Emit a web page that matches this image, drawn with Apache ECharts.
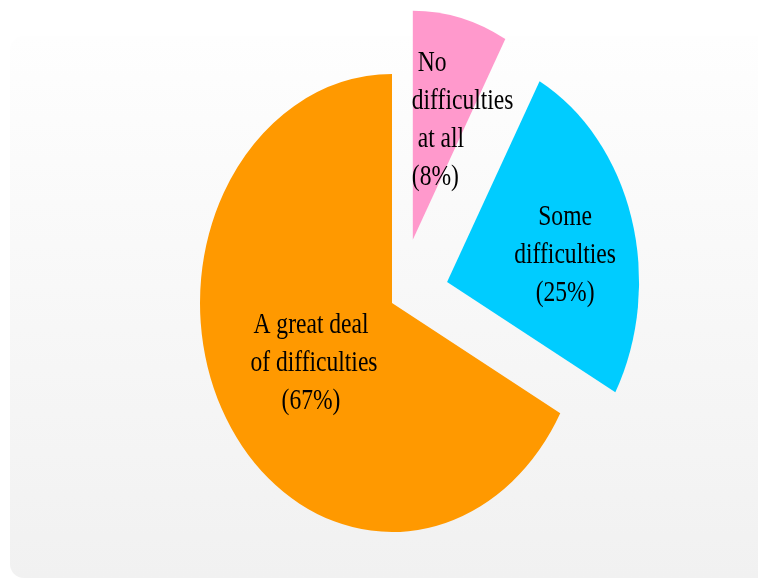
<!DOCTYPE html>
<html>
<head>
<meta charset="utf-8">
<script src="https://cdn.jsdelivr.net/npm/echarts@6/dist/echarts.min.js"></script>
<style>
  html, body { margin: 0; padding: 0; background: #ffffff; }
  #chart { width: 758px; height: 580px; }
</style>
</head>
<body>
<div id="chart"></div>
<script>
// Survey answers: how much difficulty respondents reported
const categories = ['No difficulties at all', 'Some difficulties', 'A great deal of difficulties'];
const shares = [8, 25, 67];
// Wrapped label lines for each category (the percentage line is added from shares)
const labelLines = [
  [' No', 'difficulties', ' at all'],
  ['Some', 'difficulties'],
  ['A great deal', ' of difficulties']
];
const sliceColors = ['#FF99CC', '#00CCFF', '#FF9900'];

// Layout of the pie: an ellipse built from a circle squeezed horizontally
const pie = { cx: 392, cy: 303, r: 229, xScale: 192 / 229 };
// Pull-out of each slice: distance and small angular bias (degrees)
const explode = [{ dist: 68, tilt: 7 }, { dist: 69, tilt: -1.6 }, { dist: 0, tilt: 0 }];
// Label anchor relative to each slice apex, with alignment
const labelPlace = [
  { dx: -1, dy: -120, align: 'left' },
  { dx: 118, dy: -27, align: 'center' },
  { dx: -81, dy: 60, align: 'center' }
];
const labelFont = { size: 30, lineHeight: 38, xScale: 0.785 };

const total = shares.reduce((a, b) => a + b, 0);
const cumulative = shares.map((_, i) => shares.slice(0, i).reduce((a, b) => a + b, 0));

const chart = echarts.init(document.getElementById('chart'), null, { renderer: 'canvas' });

function renderSlice(params, api) {
  const i = params.dataIndex;
  const value = api.value(0);
  const a0 = cumulative[i] / total * 360;          // clockwise from 12 o'clock
  const a1 = a0 + value / total * 360;
  const mid = (a0 + a1) / 2 + explode[i].tilt;
  const rad = mid * Math.PI / 180;
  const ox = pie.xScale * explode[i].dist * Math.sin(rad);
  const oy = -explode[i].dist * Math.cos(rad);
  const apexX = pie.cx + ox;
  const apexY = pie.cy + oy;
  const toZr = d => (d - 90) * Math.PI / 180;
  const text = labelLines[i].concat(['(' + value + '%)']).join('\n');
  const lp = labelPlace[i];
  return {
    type: 'group',
    children: [
      {
        type: 'sector',
        x: apexX,
        y: apexY,
        scaleX: pie.xScale,
        shape: { cx: 0, cy: 0, r0: 0, r: pie.r, startAngle: toZr(a0), endAngle: toZr(a1), clockwise: true },
        style: { fill: sliceColors[i] }
      },
      {
        type: 'text',
        x: apexX + lp.dx,
        y: apexY + lp.dy,
        scaleX: labelFont.xScale,
        z2: 10,
        style: {
          text: text,
          fill: '#000000',
          fontFamily: '"Liberation Serif", "Times New Roman", serif',
          fontSize: labelFont.size,
          lineHeight: labelFont.lineHeight,
          align: lp.align,
          verticalAlign: 'middle'
        }
      }
    ]
  };
}

chart.setOption({
  animation: false,
  backgroundColor: '#ffffff',
  graphic: [{
    type: 'rect',
    z: -10,
    silent: true,
    shape: { x: 10, y: 36, width: 800, height: 542, r: 14 },
    style: {
      fill: new echarts.graphic.LinearGradient(0, 0, 0, 1, [
        { offset: 0, color: '#fefefe' },
        { offset: 1, color: '#f1f1f1' }
      ])
    }
  }],
  series: [{
    type: 'custom',
    name: 'Difficulties',
    coordinateSystem: 'none',
    renderItem: renderSlice,
    data: shares.map((v, i) => ({ name: categories[i], value: [v] }))
  }]
});
</script>
</body>
</html>
